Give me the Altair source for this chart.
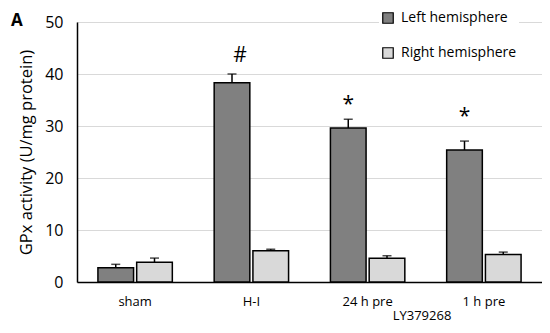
import altair as alt
import pandas as pd

categories = ["sham", "H-I", "24 h pre", "1 h pre"]
series = ["Left hemisphere", "Right hemisphere"]
left_vals = [2.75, 38.3, 29.6, 25.4]
left_err = [0.65, 1.7, 1.7, 1.7]
right_vals = [3.8, 6.0, 4.55, 5.3]
right_err = [0.8, 0.3, 0.5, 0.45]
marks = ["", "#", "*", "*"]
mark_y = [0, 43.5, 34.0, 31.8]

rows = []
for i, c in enumerate(categories):
    rows.append({"cat": c, "side": series[0], "v": left_vals[i], "top": left_vals[i] + left_err[i]})
    rows.append({"cat": c, "side": series[1], "v": right_vals[i], "top": right_vals[i] + right_err[i]})
df = pd.DataFrame(rows)

ann = pd.DataFrame({"cat": categories, "side": [series[0]] * 4, "label": marks, "y": mark_y})
ann = ann[ann["label"] != ""]

FONT = "Open Sans"

x = alt.X("cat:N", sort=categories, title=None,
          scale=alt.Scale(paddingInner=0, paddingOuter=0),
          axis=alt.Axis(labelAngle=0, labelFontSize=13, labelPadding=13, ticks=False,
                        domainColor="black", domainWidth=1.5, labelColor="black",
                        labelFont=FONT, grid=False))
xo = alt.XOffset("side:N", sort=series,
                 scale=alt.Scale(paddingInner=0.08, paddingOuter=0.54))
y = alt.Y("v:Q", title="GPx activity (U/mg protein)",
          scale=alt.Scale(domain=[0, 50]),
          axis=alt.Axis(values=[0, 10, 20, 30, 40, 50], labelFontSize=16, labelFont=FONT,
                        labelColor="black", ticks=False, domainColor="black", domainWidth=1.5,
                        gridColor="#d9d9d9", gridWidth=1.2, titleFontSize=16.5, titleFont=FONT,
                        titleFontWeight="normal", titleColor="black", titlePadding=10,
                        labelPadding=14))

color = alt.Color("side:N", sort=series,
                  scale=alt.Scale(domain=series, range=["#808080", "#d9d9d9"]),
                  legend=alt.Legend(title=None, orient="none", legendX=302, legendY=-13,
                                    symbolType="square", symbolSize=110, symbolStrokeColor="black",
                                    symbolStrokeWidth=1.2, labelFontSize=14, labelFont=FONT,
                                    labelColor="black", rowPadding=19, fillColor="white",
                                    padding=2, labelOffset=6, labelLimit=200))

base = alt.Chart(df)
bars = base.mark_bar(stroke="black", strokeWidth=1.5).encode(x=x, xOffset=xo, y=y, color=color)
rule = base.mark_rule(color="black", strokeWidth=1.5).encode(x=x, xOffset=xo, y="v:Q", y2="top:Q")
cap = base.mark_tick(color="black", thickness=1.5, size=9).encode(x=x, xOffset=xo, y="top:Q")

hash_txt = alt.Chart(ann[ann["label"] == "#"]).mark_text(fontSize=21, font=FONT, color="black", dx=8).encode(
    x=x, xOffset=xo, y="y:Q", text="label:N")
star_txt = alt.Chart(ann[ann["label"] == "*"]).mark_text(fontSize=21, font=FONT, color="black").encode(
    x=x, xOffset=xo, y="y:Q", text="label:N")

title_a = alt.Chart(pd.DataFrame({"t": ["A"]})).mark_text(
    fontSize=17, fontWeight="bold", font=FONT, color="black", align="left", baseline="middle"
).encode(x=alt.value(-66), y=alt.value(-1), text="t:N")

sub = alt.Chart(pd.DataFrame({"t": ["LY379268"]})).mark_text(
    fontSize=13, font=FONT, color="black", align="center", baseline="middle"
).encode(x=alt.value(345), y=alt.value(294), text="t:N")

chart = alt.layer(bars, rule, cap, hash_txt, star_txt, title_a, sub).properties(
    width=465, height=260,
    autosize=alt.AutoSizeParams(type="none"),
    padding={"left": 69, "top": 14, "right": 0, "bottom": 43},
).configure_view(stroke=None).configure(font=FONT)

chart.save("out.html", embed_options={"renderer": "svg", "actions": False})
